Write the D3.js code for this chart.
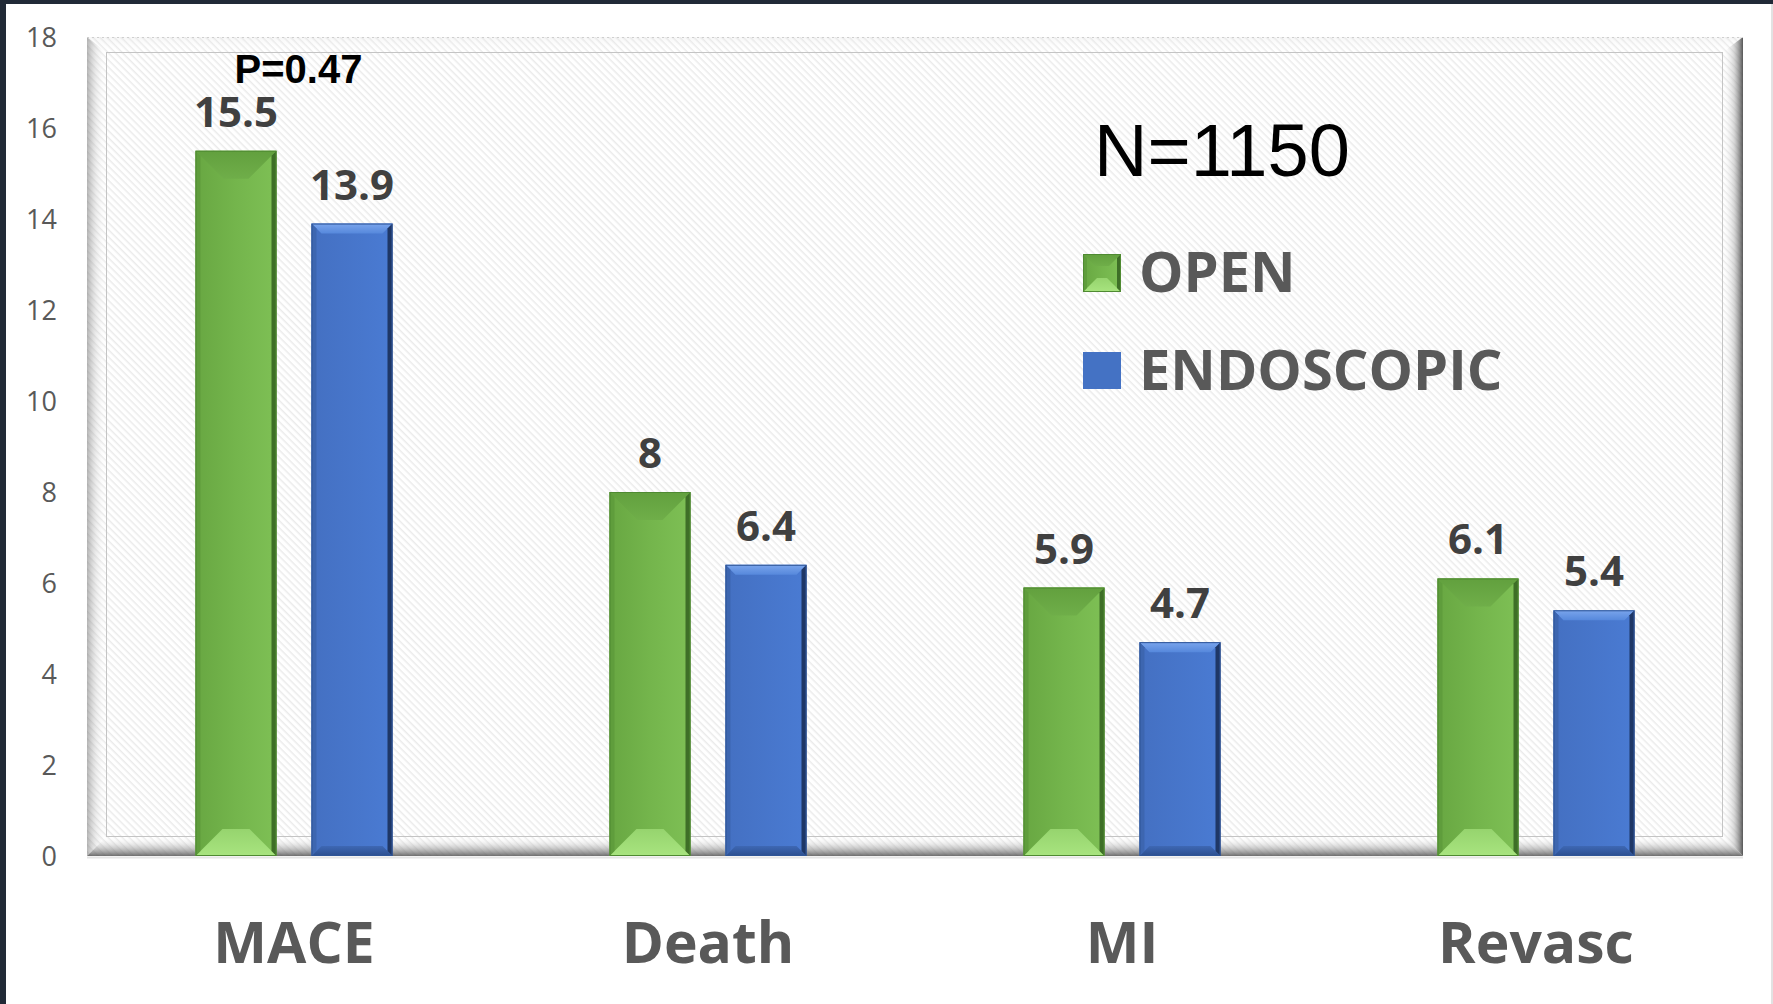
<!DOCTYPE html>
<html>
<head>
<meta charset="utf-8">
<script src="https://cdn.jsdelivr.net/npm/d3@7"></script>
<style>
  body { margin: 0; background: #fff; }
  svg { display: block; }
</style>
</head>
<body>
<div id="chart"></div>
<script>
// chart data
const categories = ["MACE", "Death", "MI", "Revasc"];
const seriesNames = ["OPEN", "ENDOSCOPIC"];
const openValues = [15.5, 8, 5.9, 6.1];
const endoValues = [13.9, 6.4, 4.7, 5.4];
const yTicks = [0, 2, 4, 6, 8, 10, 12, 14, 16, 18];
const pValue = "P=0.47";
const nLabel = "N=1150";

const W = 1773, H = 1004;
const frame = {left: 87, top: 37, right: 1743, bottom: 856};
const inner = {left: 106, top: 52, right: 1723, bottom: 837};

const svg = d3.select("#chart").append("svg")
    .attr("width", W)
    .attr("height", H);

const defs = svg.append("defs");

// diagonal hatch for the plot area
const hatch = defs.append("pattern")
    .attr("id", "hatch")
    .attr("patternUnits", "userSpaceOnUse")
    .attr("width", 5)
    .attr("height", 5)
    .attr("patternTransform", "rotate(45)");
hatch.append("rect").attr("width", 5).attr("height", 5).attr("fill", "#ffffff");
hatch.append("rect").attr("width", 5).attr("height", 1.5).attr("fill", "#ebebeb");

function linGrad(id, x1, y1, x2, y2, stops) {
    let g = defs.append("linearGradient").attr("id", id)
        .attr("x1", x1).attr("y1", y1).attr("x2", x2).attr("y2", y2);
    stops.forEach(s => g.append("stop")
        .attr("offset", s[0]).attr("stop-color", s[1]).attr("stop-opacity", s[2] === undefined ? 1 : s[2]));
}

// frame bevel gradients
linGrad("bevLeft", 0, 0, 1, 0, [[0, "#777", 0.55], [0.5, "#bbb", 0.25], [1, "#fff", 0]]);
linGrad("bevTop", 0, 0, 0, 1, [[0, "#ddd", 0.25], [1, "#fff", 0]]);
linGrad("bevRight", 0, 0, 1, 0, [[0, "#fff", 0], [0.55, "#aaa", 0.45], [1, "#444", 0.9]]);
linGrad("bevBottom", 0, 0, 0, 1, [[0, "#fff", 0], [0.5, "#aaa", 0.45], [1, "#555", 0.85]]);

// bar gradients
linGrad("greenBody", 0, 0, 1, 0, [[0, "#68a742"], [0.5, "#74b54c"], [1, "#7ec055"]]);
linGrad("greenTop", 0, 0, 0, 1, [[0, "#62a03e"], [1, "#6fae49"]]);
linGrad("greenBottom", 0, 1, 0, 0, [[0, "#a8e47f"], [1, "#96d46e"]]);
linGrad("blueBody", 0, 0, 1, 0, [[0, "#4470c2"], [1, "#4a7bd3"]]);
linGrad("blueTop", 0, 0, 0, 1, [[0, "#7aa5ec"], [1, "#5688dc"]]);
linGrad("blueBottom", 0, 1, 0, 0, [[0, "#2c4f8f"], [1, "#3e68b4"]]);

// page edge
svg.append("rect").attr("width", W).attr("height", H).attr("fill", "#ffffff");
svg.append("rect").attr("x", 0).attr("y", 0).attr("width", W).attr("height", 4).attr("fill", "#212a37");
svg.append("rect").attr("x", 0).attr("y", 0).attr("width", 6).attr("height", H).attr("fill", "#212a37");
svg.append("rect").attr("x", W - 2).attr("y", 4).attr("width", 2).attr("height", H).attr("fill", "#e2e2e2");

// scales
const x = d3.scaleBand().domain(categories).range([frame.left, frame.right]);
const xSub = d3.scaleBand().domain(seriesNames).range([0, x.bandwidth()])
    .paddingInner(35 / 116).paddingOuter(0.9355);
const y = d3.scaleLinear().domain([0, 18]).range([frame.bottom, frame.top]);

// plot frame
const fr = svg.append("g").attr("class", "frame");
fr.append("rect")
    .attr("x", frame.left).attr("y", frame.top)
    .attr("width", frame.right - frame.left).attr("height", frame.bottom - frame.top)
    .attr("fill", "url(#hatch)");
const pts = a => a.map(p => p.join(",")).join(" ");
fr.append("polygon").attr("points", pts([[frame.left, frame.top], [inner.left, inner.top], [inner.left, inner.bottom], [frame.left, frame.bottom]]))
    .attr("fill", "url(#bevLeft)");
fr.append("polygon").attr("points", pts([[frame.left, frame.top], [frame.right, frame.top], [inner.right, inner.top], [inner.left, inner.top]]))
    .attr("fill", "url(#bevTop)");
fr.append("polygon").attr("points", pts([[inner.right, inner.top], [frame.right, frame.top], [frame.right, frame.bottom], [inner.right, inner.bottom]]))
    .attr("fill", "url(#bevRight)");
fr.append("polygon").attr("points", pts([[frame.left, frame.bottom], [inner.left, inner.bottom], [inner.right, inner.bottom], [frame.right, frame.bottom]]))
    .attr("fill", "url(#bevBottom)");
fr.append("line")
    .attr("x1", frame.left).attr("x2", frame.right).attr("y1", frame.top + 0.5).attr("y2", frame.top + 0.5)
    .attr("stroke", "#cfcfcf").attr("stroke-dasharray", "2,3");
fr.append("rect")
    .attr("x", inner.left + 0.5).attr("y", inner.top + 0.5)
    .attr("width", inner.right - inner.left - 1).attr("height", inner.bottom - inner.top - 1)
    .attr("fill", "none").attr("stroke", "#c4c4c4").attr("stroke-width", 1);
fr.append("line")
    .attr("x1", frame.left).attr("x2", frame.right).attr("y1", frame.bottom + 1.5).attr("y2", frame.bottom + 1.5)
    .attr("stroke", "#e6e6e6").attr("stroke-width", 2);

// y axis labels
const yAxis = svg.append("g").attr("class", "axis axis--y")
    .attr("transform", "translate(57,0)")
    .call(d3.axisLeft(y).tickValues(yTicks).tickSize(0).tickPadding(0));
yAxis.select(".domain").remove();
yAxis.selectAll("text")
    .attr("font-family", "'Open Sans', sans-serif")
    .attr("font-size", 27)
    .attr("fill", "#595959")
    .attr("dy", "0.36em");

// bevelled bar drawing
function drawBar(g, x0, w, y0, y1, style) {
    let x1 = x0 + w;
    g.append("rect").attr("x", x0).attr("y", y0).attr("width", w).attr("height", y1 - y0)
        .attr("fill", style.body);
    g.append("polygon").attr("points", pts([[x0, y0], [x1, y0], [x1 - style.top, y0 + style.top], [x0 + style.top, y0 + style.top]]))
        .attr("fill", style.topFill);
    g.append("polygon").attr("points", pts([[x0, y1], [x1, y1], [x1 - style.bottom, y1 - style.bottom], [x0 + style.bottom, y1 - style.bottom]]))
        .attr("fill", style.bottomFill);
    g.append("polygon").attr("points", pts([[x1, y0], [x1, y1], [x1 - style.side, y1 - style.side], [x1 - style.side, y0 + style.side]]))
        .attr("fill", style.right);
    g.append("polygon").attr("points", pts([[x0, y0], [x0 + style.side, y0 + style.side], [x0 + style.side, y1 - style.side], [x0, y1]]))
        .attr("fill", style.left);
    g.append("rect").attr("x", x0 + 0.5).attr("y", y0 + 0.5).attr("width", w - 1).attr("height", y1 - y0 - 1)
        .attr("fill", "none").attr("stroke", style.edge).attr("stroke-width", 1);
}

const styles = {
    OPEN: {body: "url(#greenBody)", topFill: "url(#greenTop)", bottomFill: "url(#greenBottom)",
        right: "#3e6f27", left: "#5f9d3c", edge: "#4f8a32", top: 28, bottom: 27, side: 5},
    ENDOSCOPIC: {body: "url(#blueBody)", topFill: "url(#blueTop)", bottomFill: "url(#blueBottom)",
        right: "#1f3766", left: "#3d66b0", edge: "#2f5597", top: 10, bottom: 10, side: 5}
};

const rows = categories.map((c, i) => ({cat: c, values: [
    {key: "OPEN", value: openValues[i]},
    {key: "ENDOSCOPIC", value: endoValues[i]}
]}));

const bars = svg.append("g").attr("class", "bars");
rows.forEach(r => {
    r.values.forEach(v => {
        let bx = x(r.cat) + xSub(v.key);
        drawBar(bars, bx, xSub.bandwidth(), y(v.value), y(0), styles[v.key]);
        bars.append("text")
            .attr("x", bx + xSub.bandwidth() / 2)
            .attr("y", y(v.value) - 24)
            .attr("text-anchor", "middle")
            .attr("font-family", "'Open Sans', sans-serif")
            .attr("font-weight", "bold")
            .attr("font-size", 42)
            .attr("fill", "#404040")
            .text(String(v.value));
    });
});

// category labels
svg.append("g").attr("class", "axis axis--x")
    .selectAll("text")
    .data(categories)
    .join("text")
    .attr("x", d => x(d) + x.bandwidth() / 2)
    .attr("y", 963)
    .attr("text-anchor", "middle")
    .attr("font-family", "'Open Sans', sans-serif")
    .attr("font-weight", "bold")
    .attr("font-size", 57)
    .attr("fill", "#595959")
    .text(d => d);

// annotations
svg.append("text")
    .attr("x", x("MACE") + xSub("OPEN") + 39)
    .attr("y", 83)
    .attr("font-family", "'Liberation Sans', Arial, sans-serif")
    .attr("font-weight", "bold")
    .attr("font-size", 40)
    .attr("fill", "#000")
    .text(pValue);

svg.append("text")
    .attr("x", 1094)
    .attr("y", 176)
    .attr("font-family", "'Liberation Sans', Arial, sans-serif")
    .attr("font-size", 74)
    .attr("fill", "#000")
    .text(nLabel);

// legend
const legend = svg.append("g").attr("class", "legend");
seriesNames.forEach((s, i) => {
    let ly = 254 + i * 98;
    if (s === "OPEN") {
        drawBar(legend, 1083, 38, ly, ly + 38, Object.assign({}, styles.OPEN, {top: 12, bottom: 14, side: 4}));
    } else {
        legend.append("rect").attr("x", 1083).attr("y", ly).attr("width", 38).attr("height", 37)
            .attr("fill", "#4472c4");
    }
    legend.append("text")
        .attr("x", 1139)
        .attr("y", ly + 38)
        .attr("font-family", "'Open Sans', sans-serif")
        .attr("font-weight", "bold")
        .attr("font-size", 56)
        .attr("fill", "#595959")
        .text(s);
});
</script>
</body>
</html>
